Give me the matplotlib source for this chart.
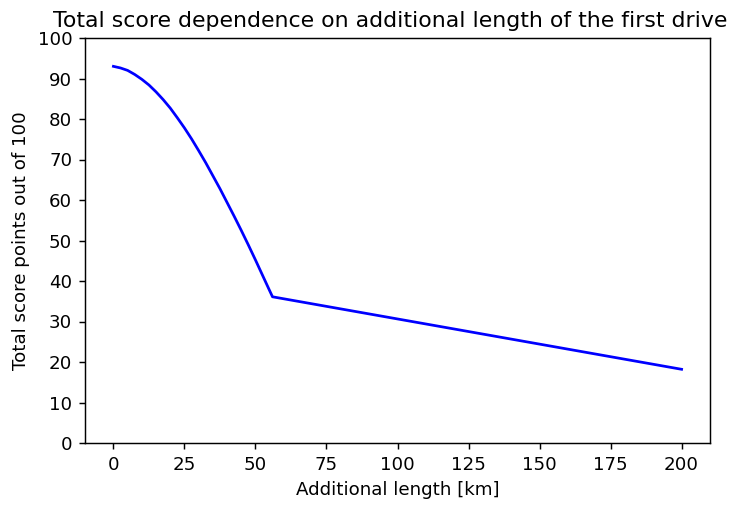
import matplotlib
matplotlib.use("Agg")
import matplotlib.pyplot as plt

# Curved part then straight part
length_km = [0, 2.5, 5, 7.5, 10, 12.5, 15, 17.5, 20, 22.5, 25, 27.5, 30, 32.5,
             35, 37.5, 40, 42.5, 45, 47.5, 50, 52.5, 55, 56, 200]
score = [93.0, 92.6, 92.0, 91.0, 89.8, 88.4, 86.7, 84.8, 82.7, 80.3, 77.8, 75.1,
         72.2, 69.2, 66.0, 62.8, 59.4, 56.0, 52.5, 48.9, 45.2, 41.4, 37.6, 36.1, 18.2]

y_ticks = list(range(0, 101, 10))

DPI = 131
fig = plt.figure(figsize=(741 / DPI, 505 / DPI), dpi=DPI)
ax = fig.add_axes([85 / 741, 1 - 443 / 505, (710 - 85) / 741, (443 - 38) / 505])
ax.plot(length_km, score, color="blue", linewidth=1.5)
ax.set_ylim(0, 100)
ax.set_yticks(y_ticks)
ax.set_title("Total score dependence on additional length of the first drive",
             fontsize=12.1, x=0.489)
ax.set_xlabel("Additional length [km]")
ax.set_ylabel("Total score points out of 100")
fig.savefig("out.png", dpi=DPI)
